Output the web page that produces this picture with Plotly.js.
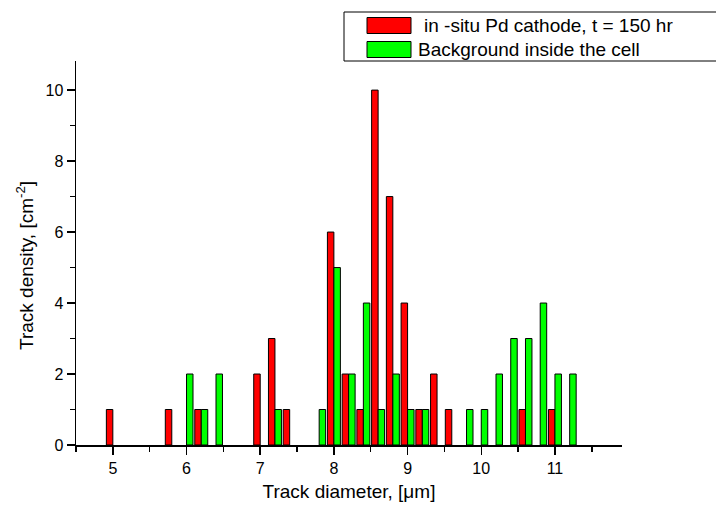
<!DOCTYPE html>
<html>
<head>
<meta charset="utf-8">
<script src="https://cdn.plot.ly/plotly-3.0.1.min.js"></script>
<style>html,body{margin:0;padding:0;background:#fff;}#chart{width:716px;height:507px;}</style>
</head>
<body>
<div id="chart"></div>
<script>
// Data
var seriesNames = ["in -situ Pd cathode, t = 150 hr", "Background inside the cell"];
var redDiam  = [5.0, 5.8, 6.2, 7.0, 7.2, 7.4, 8.0, 8.2, 8.4, 8.6, 8.8, 9.0, 9.2, 9.4, 9.6, 10.6, 11.0];
var redDens  = [1,   1,   1,   2,   3,   1,   6,   2,   1,   10,  7,   4,   1,   2,   1,   1,    1];
var greenDiam = [6.0, 6.2, 6.4, 7.2, 7.8, 8.0, 8.2, 8.4, 8.6, 8.8, 9.0, 9.2, 9.8, 10.0, 10.2, 10.4, 10.6, 10.8, 11.0, 11.2];
var greenDens = [2,   1,   2,   1,   1,   5,   2,   4,   1,   2,   1,   1,   1,   1,    2,    3,    3,    4,    2,    2];
var xTickVals = [5, 6, 7, 8, 9, 10, 11];
var yTickVals = [0, 2, 4, 6, 8, 10];
var xTitle = "Track diameter, [μm]";
var yTitle = "Track density, [cm<sup>-2</sup>]";

var colors = ["#FF0000", "#00FF00"];
var barW = 0.088;

var traces = [
  {type: "bar", x: redDiam, y: redDens, name: seriesNames[0], width: barW, offset: -barW,
   marker: {color: colors[0], line: {color: "#000", width: 1}}, showlegend: false},
  {type: "bar", x: greenDiam, y: greenDens, name: seriesNames[1], width: barW, offset: 0,
   marker: {color: colors[1], line: {color: "#000", width: 1}}, showlegend: false}
];

// plot area in pixels: x 76..622, y 61..445
var L = 76, R = 622, T = 61, B = 445;
function px(x) { return (x - L) / (R - L); }
function py(y) { return (B - y) / (B - T); }

var shapes = [
  {type: "rect", xref: "paper", yref: "paper", x0: px(344), x1: px(730), y0: py(61), y1: py(12),
   line: {color: "#000", width: 1}, fillcolor: "rgba(0,0,0,0)"},
  {type: "rect", xref: "paper", yref: "paper", x0: px(367), x1: px(411), y0: py(33.5), y1: py(17.5),
   line: {color: "#000", width: 1}, fillcolor: colors[0]},
  {type: "rect", xref: "paper", yref: "paper", x0: px(367), x1: px(411), y0: py(57.5), y1: py(41.5),
   line: {color: "#000", width: 1}, fillcolor: colors[1]}
];
var annotations = [
  {xref: "paper", yref: "paper", x: px(422), y: py(25.5), xanchor: "left", yanchor: "middle",
   text: seriesNames[0], showarrow: false, font: {size: 19, color: "#000"}},
  {xref: "paper", yref: "paper", x: px(416), y: py(49.5), xanchor: "left", yanchor: "middle",
   text: seriesNames[1], showarrow: false, font: {size: 19, color: "#000"}},
  {xref: "paper", yref: "paper", x: px(25), y: py(266), xanchor: "center", yanchor: "middle",
   text: yTitle, textangle: -90, showarrow: false, font: {size: 19, color: "#000"}}
];

var layout = {
  width: 716, height: 507,
  margin: {l: L, r: 716 - R, t: T, b: 507 - B, pad: 0},
  paper_bgcolor: "#fff", plot_bgcolor: "#fff",
  font: {family: "Liberation Sans, Arial, sans-serif", color: "#000", size: 16},
  barmode: "overlay",
  showlegend: false,
  xaxis: {
    range: [4.5, 11.91], tickvals: xTickVals, ticktext: xTickVals.map(String),
    ticks: "outside", ticklen: 8, tickwidth: 1.5, tickcolor: "#000",
    minor: {dtick: 0.5, tick0: 0, ticks: "outside", ticklen: 5, tickwidth: 1.5, tickcolor: "#000"},
    showline: true, linecolor: "#000", linewidth: 1.5, showgrid: false, zeroline: false,
    tickfont: {size: 16},
    title: {text: xTitle, font: {size: 19}, standoff: 9}
  },
  yaxis: {
    range: [0, 10.82], tickvals: yTickVals, ticktext: yTickVals.map(String),
    ticks: "outside", ticklen: 8, tickwidth: 1.5, tickcolor: "#000",
    minor: {dtick: 1, tick0: 0, ticks: "outside", ticklen: 5, tickwidth: 1.5, tickcolor: "#000"},
    showline: true, linecolor: "#000", linewidth: 1.5, showgrid: false, zeroline: false,
    tickfont: {size: 16}
  },
  shapes: shapes,
  annotations: annotations
};

Plotly.newPlot("chart", traces, layout, {staticPlot: true, displayModeBar: false});
</script>
</body>
</html>
